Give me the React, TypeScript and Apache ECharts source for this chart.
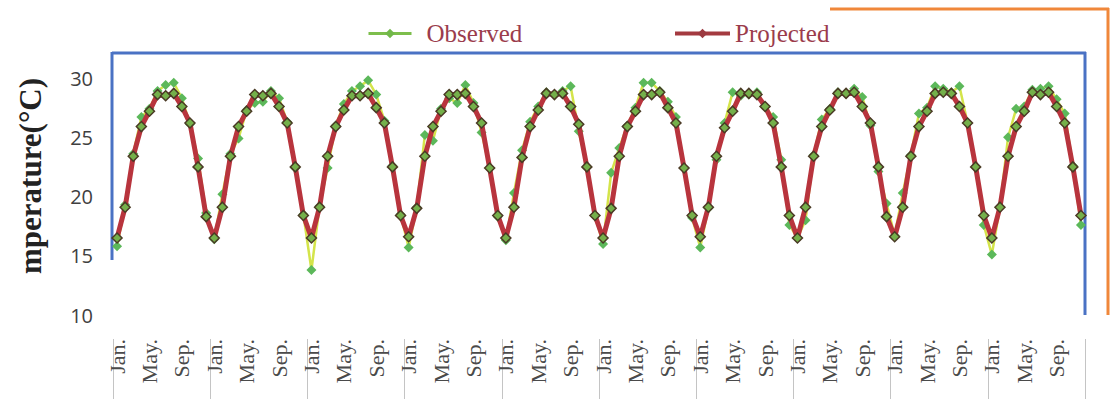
import React, { useEffect, useRef } from "react";
import * as echarts from "echarts";

const monthNames = ["Jan.", "Feb.", "Mar.", "Apr.", "May.", "Jun.", "Jul.", "Aug.", "Sep.", "Oct.", "Nov.", "Dec."];
const years = 10;
const categories: string[] = [];
for (let y = 0; y < years; y++) for (const m of monthNames) categories.push(m);

const yTicks = { min: 10, max: 30, interval: 5 };

const observed = [
  15.8, 19.3, 23.6, 26.7, 27.4, 28.9, 29.4, 29.6, 28.3, 26.1, 23.2, 18.6,
  16.4, 20.2, 23.6, 24.9, 27.3, 27.9, 28.0, 28.9, 28.3, 26.3, 22.4, 18.5,
  13.8, 19.2, 22.4, 26.0, 27.8, 28.9, 29.3, 29.8, 28.6, 26.4, 22.6, 18.5,
  15.7, 19.1, 25.2, 24.7, 27.4, 28.3, 27.9, 29.4, 27.9, 25.4, 22.4, 18.3,
  16.3, 20.3, 23.9, 26.3, 27.6, 28.8, 28.6, 28.9, 29.3, 25.5, 22.5, 18.4,
  16.0, 22.0, 24.1, 26.0, 27.5, 29.6, 29.6, 28.9, 28.0, 26.7, 22.4, 18.2,
  15.7, 19.0, 23.1, 26.2, 28.8, 28.5, 28.6, 28.8, 27.6, 26.7, 23.1, 17.6,
  16.5, 18.0, 23.5, 26.5, 27.4, 28.8, 28.7, 29.1, 28.4, 26.0, 22.1, 19.4,
  16.7, 20.3, 23.5, 27.0, 27.5, 29.3, 29.1, 28.8, 29.3, 26.2, 22.5, 17.6,
  15.1, 19.1, 25.0, 27.4, 27.6, 29.0, 29.1, 29.3, 28.2, 27.0, 22.6, 17.6,
];

const projected = [
  16.5, 19.1, 23.4, 25.9, 27.2, 28.6, 28.5, 28.7, 27.6, 26.2, 22.5, 18.3,
  16.5, 19.1, 23.4, 25.9, 27.2, 28.6, 28.5, 28.7, 27.6, 26.2, 22.5, 18.4,
  16.5, 19.1, 23.4, 25.9, 27.3, 28.5, 28.5, 28.7, 27.5, 26.2, 22.5, 18.4,
  16.6, 19.0, 23.4, 25.9, 27.2, 28.6, 28.6, 28.7, 27.6, 26.2, 22.4, 18.4,
  16.5, 19.1, 23.3, 25.9, 27.3, 28.7, 28.6, 28.7, 27.6, 26.1, 22.5, 18.4,
  16.5, 19.0, 23.4, 25.9, 27.2, 28.6, 28.6, 28.8, 27.5, 26.2, 22.4, 18.4,
  16.6, 19.1, 23.4, 25.8, 27.2, 28.7, 28.7, 28.6, 27.6, 26.2, 22.5, 18.4,
  16.5, 19.1, 23.4, 25.9, 27.3, 28.7, 28.7, 28.8, 27.6, 26.2, 22.5, 18.3,
  16.6, 19.1, 23.4, 25.9, 27.2, 28.7, 28.8, 28.7, 27.6, 26.2, 22.5, 18.4,
  16.5, 19.1, 23.4, 25.9, 27.2, 28.8, 28.6, 28.8, 27.6, 26.2, 22.5, 18.4,
];

const yAxisTitle = "mperature(°C)";
const legendNames = ["Observed", "Projected"];

export default function App() {
  const ref = useRef<HTMLDivElement>(null);
  useEffect(() => {
    if (!ref.current) return;
    const chart = echarts.init(ref.current, null, { renderer: "svg" });
    const legendText = {
      color: "#9b3c4c",
      fontFamily: "Liberation Serif",
      fontSize: 25,
    };
    const blue = "#4a72c4";
    const orange = "#f0873a";
    chart.setOption({
      animation: false,
      backgroundColor: "#ffffff",
      grid: { left: 113, right: 28, top: 78, bottom: 84, containLabel: false },
      legend: [
        {
          left: 362,
          top: 16,
          itemWidth: 43,
          itemHeight: 12,
          data: [
            {
              name: legendNames[0],
              itemStyle: { color: "#72b84a", borderWidth: 0 },
              lineStyle: { color: "#7dbe4c", width: 3 },
            },
          ],
          textStyle: { ...legendText, padding: [0, 0, 0, 10] },
        },
        {
          left: 668,
          top: 16,
          itemWidth: 55,
          itemHeight: 12,
          data: [
            {
              name: legendNames[1],
              itemStyle: { color: "#9c3a40", borderWidth: 0 },
              lineStyle: { color: "#a43a40", width: 4 },
            },
          ],
          textStyle: { ...legendText },
        },
      ],
      xAxis: [
        {
          type: "category",
          data: categories,
          boundaryGap: true,
          axisLine: { show: false },
          axisTick: { show: false },
          axisLabel: {
            interval: 3,
            rotate: 90,
            margin: 24,
            color: "#4a4a4a",
            fontFamily: "Liberation Serif",
            fontSize: 22,
          },
          splitLine: { show: false },
        },
        {
          type: "category",
          data: categories,
          boundaryGap: true,
          position: "bottom",
          offset: 24,
          axisLine: { show: false },
          axisLabel: { show: false },
          axisTick: {
            show: true,
            interval: 11,
            length: 64,
            lineStyle: { color: "#c4c4c4", width: 1 },
          },
          splitLine: { show: false },
        },
      ],
      yAxis: {
        type: "value",
        min: yTicks.min,
        max: yTicks.max,
        interval: yTicks.interval,
        axisLine: { show: false },
        axisTick: { show: false },
        splitLine: { show: false },
        axisLabel: {
          margin: 20,
          color: "#404040",
          fontFamily: "Open Sans",
          fontSize: 20,
        },
      },
      series: [
        {
          name: legendNames[0],
          type: "line",
          data: observed,
          clip: false,
          symbol: "diamond",
          symbolSize: 10,
          showAllSymbol: true,
          z: 2,
          lineStyle: { color: "#d4e44a", width: 2.5 },
          itemStyle: { color: "#5cb85a", borderWidth: 0 },
        },
        {
          name: legendNames[1],
          type: "line",
          data: projected,
          clip: false,
          symbol: "diamond",
          symbolSize: 10,
          showAllSymbol: true,
          z: 3,
          lineStyle: { color: "#b8343d", width: 5 },
          itemStyle: { color: "#74b04a", borderColor: "#4a3a25", borderWidth: 1.5 },
        },
      ],
      graphic: [
        {
          type: "text",
          x: 30,
          y: 176,
          rotation: Math.PI / 2,
          style: {
            text: yAxisTitle,
            fontFamily: "Liberation Serif",
            fontWeight: "bold",
            fontSize: 31,
            fill: "#222222",
            align: "center",
            verticalAlign: "middle",
          },
        },
        { type: "line", shape: { x1: 112, y1: 53, x2: 1086, y2: 53 }, style: { stroke: blue, lineWidth: 3 } },
        { type: "line", shape: { x1: 112, y1: 52, x2: 112, y2: 260 }, style: { stroke: blue, lineWidth: 3 } },
        { type: "line", shape: { x1: 1085, y1: 52, x2: 1085, y2: 315 }, style: { stroke: blue, lineWidth: 3 } },
        { type: "line", shape: { x1: 830, y1: 9, x2: 1109, y2: 9 }, style: { stroke: orange, lineWidth: 3 } },
        { type: "line", shape: { x1: 1108, y1: 8, x2: 1108, y2: 315 }, style: { stroke: orange, lineWidth: 3 } },
      ],
    });
    return () => chart.dispose();
  }, []);
  return (
    <div
      ref={ref}
      style={{ position: "absolute", left: 0, top: 0, width: 1113, height: 399 }}
    />
  );
}
